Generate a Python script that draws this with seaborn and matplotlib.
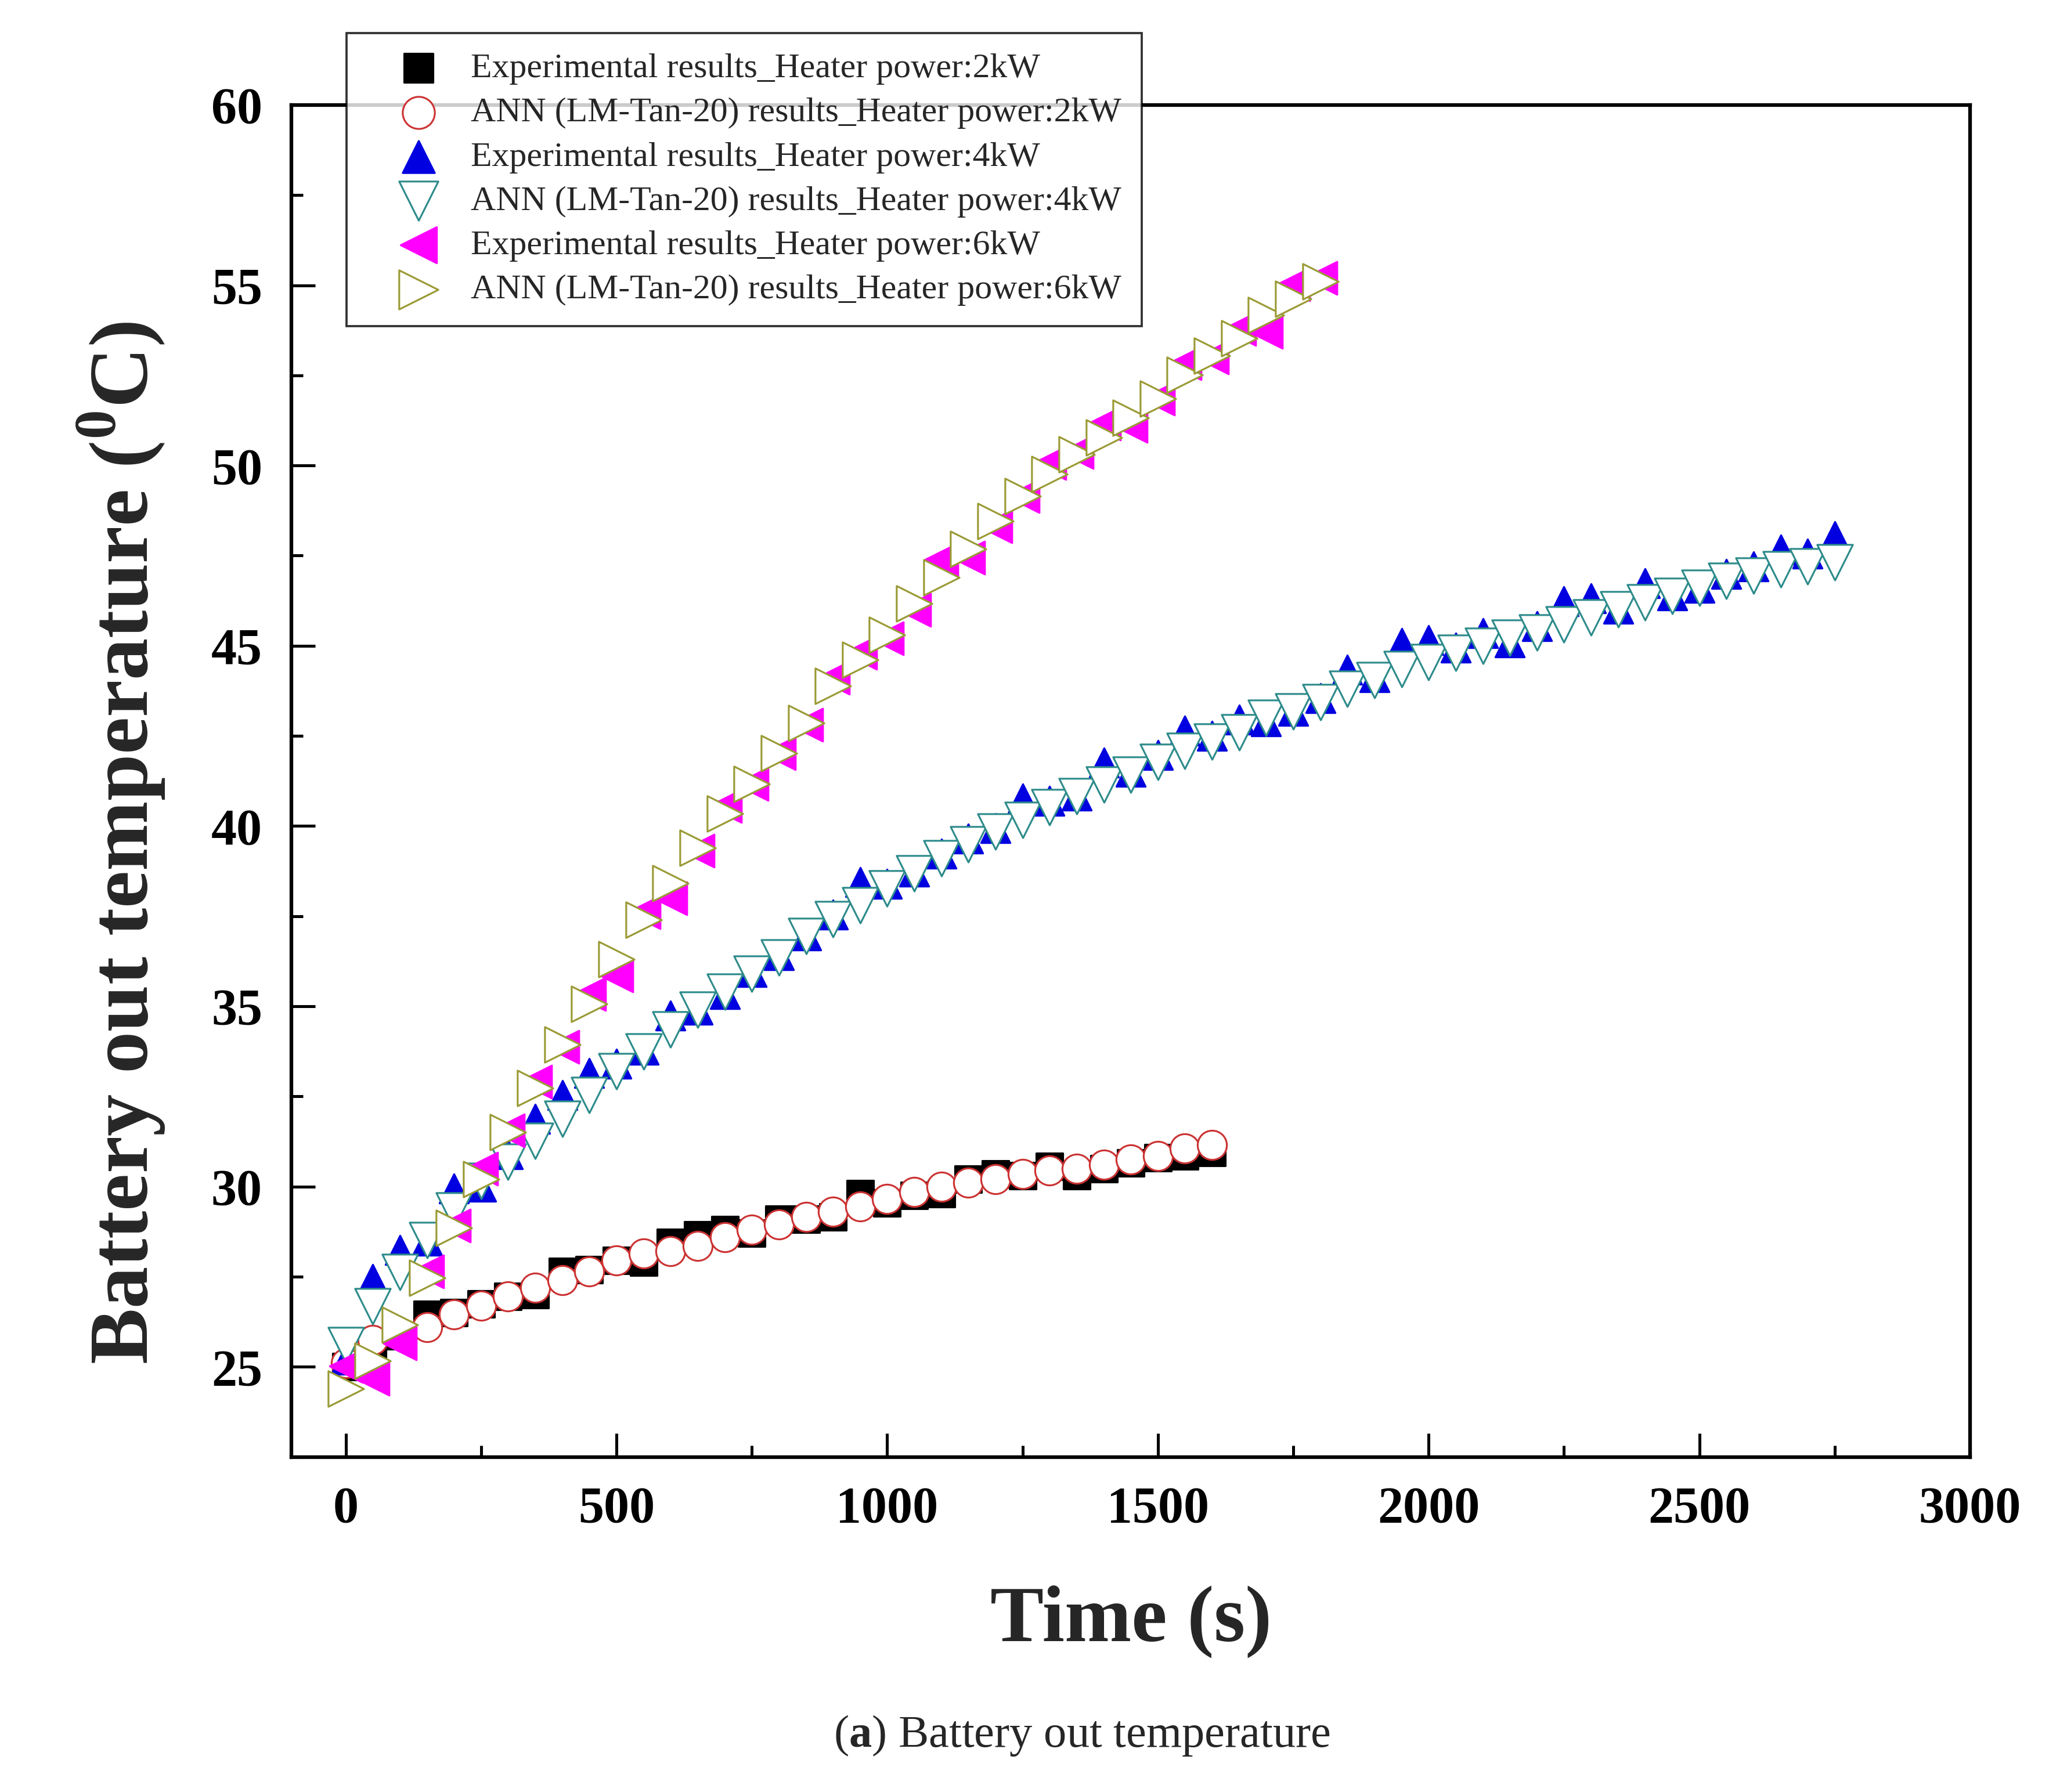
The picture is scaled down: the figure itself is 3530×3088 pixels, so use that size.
import numpy as np
import pandas as pd
import seaborn as sns
import matplotlib.pyplot as plt
from matplotlib.ticker import MultipleLocator

# time axis (s)
time_2kw = [0, 50, 100, 150, 200, 250, 300, 350, 400, 450, 500, 550, 600, 650, 700, 750,
            800, 850, 900, 950, 1000, 1050, 1100, 1150, 1200, 1250, 1300, 1350, 1400, 1450,
            1500, 1550, 1600]
time_4kw = [0, 50, 100, 150, 200, 250, 300, 350, 400, 450, 500, 550, 600, 650, 700, 750,
            800, 850, 900, 950, 1000, 1050, 1100, 1150, 1200, 1250, 1300, 1350, 1400, 1450,
            1500, 1550, 1600, 1650, 1700, 1750, 1800, 1850, 1900, 1950, 2000, 2050, 2100,
            2150, 2200, 2250, 2300, 2350, 2400, 2450, 2500, 2550, 2600, 2650, 2700, 2750]
time_6kw = [0, 50, 100, 150, 200, 250, 300, 350, 400, 450, 500, 550, 600, 650, 700, 750,
            800, 850, 900, 950, 1000, 1050, 1100, 1150, 1200, 1250, 1300, 1350, 1400, 1450,
            1500, 1550, 1600, 1650, 1700, 1750, 1800]

# battery out temperature (C)
exp_2kw = [25.0, 25.4, 25.85, 26.45, 26.5, 26.75, 26.95, 27.0, 27.65, 27.7, 27.95, 27.9,
           28.45, 28.65, 28.8, 28.7, 29.1, 29.1, 29.15, 29.8, 29.55, 29.75, 29.8, 30.2,
           30.35, 30.3, 30.55, 30.3, 30.5, 30.65, 30.8, 30.85, 30.95]
ann_2kw = [25.1, 25.75, 25.9, 26.1, 26.45, 26.7, 26.95, 27.2, 27.4, 27.65, 27.95, 28.15,
           28.2, 28.35, 28.6, 28.8, 28.95, 29.15, 29.3, 29.45, 29.65, 29.85, 30.0, 30.1,
           30.2, 30.35, 30.45, 30.5, 30.6, 30.75, 30.85, 31.05, 31.15]

exp_4kw = [25.2, 27.43, 28.24, 28.5, 29.94, 30.0, 30.9, 31.88, 32.53, 33.15, 33.4, 33.8,
           34.74, 34.9, 35.34, 35.95, 36.42, 36.96, 37.54, 38.45, 38.4, 38.74, 39.24, 39.66,
           39.94, 40.76, 40.7, 40.85, 41.76, 41.5, 41.97, 42.64, 42.5, 42.95, 42.9, 43.2,
           43.55, 44.33, 44.12, 45.07, 45.15, 44.95, 45.35, 45.1, 45.55, 46.23, 46.32, 46.03,
           46.74, 46.4, 46.6, 47.0, 47.2, 47.67, 47.55, 48.04]
ann_4kw = [25.6, 26.67, 27.63, 28.52, 29.33, 30.15, 30.69, 31.27, 31.88, 32.54, 33.2, 33.74,
           34.35, 34.9, 35.4, 35.9, 36.36, 36.94, 37.41, 37.8, 38.26, 38.68, 39.1, 39.49,
           39.84, 40.17, 40.52, 40.82, 41.15, 41.42, 41.77, 42.08, 42.34, 42.6, 43.0, 43.17,
           43.43, 43.8, 44.05, 44.35, 44.55, 44.8, 45.0, 45.22, 45.36, 45.59, 45.78, 46.01,
           46.2, 46.38, 46.61, 46.8, 46.94, 47.12, 47.21, 47.31]

exp_6kw = [25.02, 24.67, 25.64, 27.65, 28.92, 30.5, 31.55, 32.9, 33.87, 35.34, 35.85, 37.6,
           38.0, 39.32, 40.55, 41.17, 42.02, 42.8, 44.11, 44.8, 45.2, 46.0, 47.4, 47.45,
           48.32, 49.15, 50.07, 50.38, 51.16, 51.1, 51.85, 52.83, 53.0, 53.79, 53.7, 55.02,
           55.2]
ann_6kw = [24.4, 25.16, 26.17, 27.46, 28.85, 30.2, 31.51, 32.73, 33.93, 35.07, 36.3, 37.4,
           38.42, 39.4, 40.35, 41.16, 42.02, 42.86, 43.88, 44.61, 45.3, 46.17, 46.9, 47.69,
           48.45, 49.15, 49.76, 50.31, 50.77, 51.32, 51.86, 52.52, 53.05, 53.53, 54.17, 54.63,
           55.11]

labels = [
    'Experimental results_Heater power:2kW',
    'ANN (LM-Tan-20) results_Heater power:2kW',
    'Experimental results_Heater power:4kW',
    'ANN (LM-Tan-20) results_Heater power:4kW',
    'Experimental results_Heater power:6kW',
    'ANN (LM-Tan-20) results_Heater power:6kW',
]

sns.set_theme(style='white')
plt.rcParams['font.family'] = ['Liberation Serif', 'DejaVu Serif']
plt.rcParams['mathtext.fontset'] = 'custom'
plt.rcParams['mathtext.rm'] = 'Liberation Serif:bold'
plt.rcParams['mathtext.bf'] = 'Liberation Serif:bold'

DPI = 226.3
fig = plt.figure(figsize=(3530 / DPI, 3088 / DPI), dpi=DPI)
ax = fig.add_axes([0.1423, 0.187, 0.8192, 0.7544])

# (time, temp, marker, size, face, edge, label)
series = [
    (time_2kw, exp_2kw, 's', 14.5, 'black', 'black', labels[0]),
    (time_2kw, ann_2kw, 'o', 16, 'white', '#cc3333', labels[1]),
    (time_4kw, exp_4kw, '^', 16, '#0000e0', '#0000e0', labels[2]),
    (time_4kw, ann_4kw, 'v', 19.5, 'white', '#2e8b8b', labels[3]),
    (time_6kw, exp_6kw, '<', 18, '#ff00ff', '#ff00ff', labels[4]),
    (time_6kw, ann_6kw, '>', 19.5, 'white', '#9a9a35', labels[5]),
]

for i, (t, temp, mk, ms, face, edge, lab) in enumerate(series):
    df = pd.DataFrame({'time': t, 'temp': temp})
    sns.scatterplot(data=df, x='time', y='temp', ax=ax, marker=mk, s=ms ** 2,
                    color=face, edgecolor=edge, linewidth=1.0, label=lab,
                    zorder=3 + i, legend=False)

ax.set_xlim(-100, 3000)
ax.set_ylim(22.5, 60)
ax.xaxis.set_major_locator(MultipleLocator(500))
ax.xaxis.set_minor_locator(MultipleLocator(250))
ax.yaxis.set_major_locator(MultipleLocator(5))
ax.yaxis.set_minor_locator(MultipleLocator(2.5))
ax.tick_params(which='both', direction='in', top=False, right=False,
               bottom=True, left=True, width=1.6, colors='black')
ax.tick_params(which='major', length=13, labelsize=28, pad=16)
ax.tick_params(which='minor', length=6.5)
for lab in ax.get_xticklabels() + ax.get_yticklabels():
    lab.set_fontweight('bold')
for sp in ax.spines.values():
    sp.set_linewidth(2.0)
    sp.set_color('black')

ax.set_xlabel('Time (s)', fontsize=44, fontweight='bold')
ax.set_ylabel(r'Battery out temperature ($^{\mathbf{0}}$C)', fontsize=46, fontweight='bold')
ax.xaxis.set_label_coords(0.5, -0.095)
ax.yaxis.set_label_coords(-0.074, 0.454)

handles, labs = ax.get_legend_handles_labels()
leg = fig.legend(handles, labs, loc='upper left', bbox_to_anchor=(0.1692, 0.9817),
                 frameon=True, fancybox=False, fontsize=19, handletextpad=0.0,
                 labelspacing=0.36, borderpad=0.58, handlelength=3.0, borderaxespad=0,
                 markerscale=1.1)
leg.get_frame().set_edgecolor('black')
leg.get_frame().set_linewidth(1.2)
leg.set_zorder(20)

fig.text(0.528, 0.0315, r'($\mathbf{a}$) Battery out temperature', ha='center',
         va='center', fontsize=25, family='Liberation Serif')

fig.savefig('out.png', dpi=DPI, facecolor='white')
